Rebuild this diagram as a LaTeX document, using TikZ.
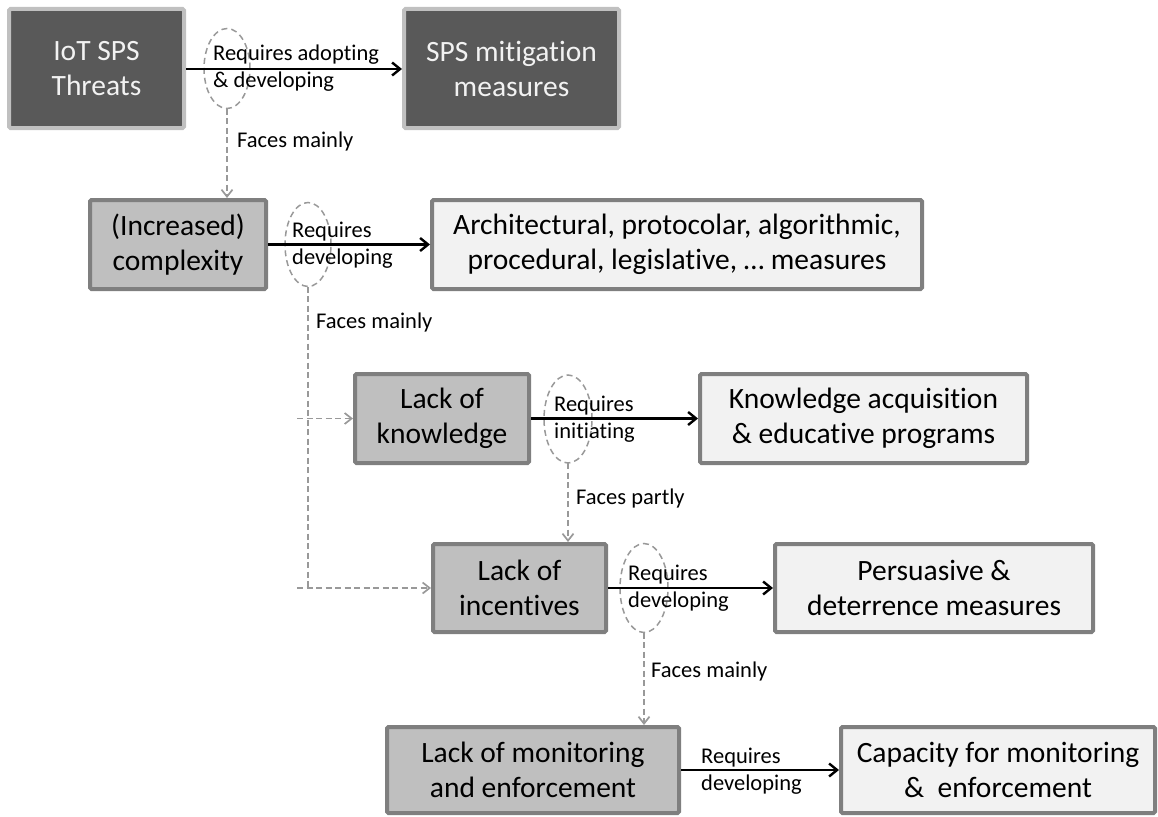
\documentclass[tikz,border=0pt]{standalone}
\usepackage{fontspec}
\setmainfont{Carlito}[Ligatures=CommonOff]
\usetikzlibrary{arrows.meta,shapes.geometric}
\definecolor{darkbox}{HTML}{595959}
\definecolor{darkborder}{HTML}{C0C0C0}
\definecolor{midbox}{HTML}{BFBFBF}
\definecolor{boxborder}{HTML}{7F7F7F}
\definecolor{lightbox}{HTML}{F2F2F2}
\definecolor{dashgrey}{HTML}{999999}
\begin{document}
\begin{tikzpicture}[x=1pt,y=-1pt,
  box/.style={draw, line width=4pt, rounded corners=1.5pt, inner sep=0pt,
    align=center, font=\fontsize{29.5}{35}\selectfont},
  threat/.style={box, fill=darkbox, draw=darkborder, text=lightbox},
  issue/.style={box, fill=midbox, draw=boxborder, text=black},
  measure/.style={box, fill=lightbox, draw=boxborder, text=black},
  lbl/.style={inner sep=0pt, anchor=base west, font=\fontsize{22.5}{27}\selectfont},
  req/.style={-{Straight Barb[length=8pt,width=13pt]}, line width=2.4pt, black},
  face/.style={-{Straight Barb[length=7pt,width=11pt]}, line width=1.7pt, draw=dashgrey,
    dash pattern=on 6pt off 3.5pt},
  faceline/.style={line width=1.7pt, draw=dashgrey, dash pattern=on 6pt off 3.5pt},
  oval/.style={ellipse, draw=dashgrey, line width=1.5pt, dash pattern=on 6pt off 4pt,
    inner sep=0pt, outer sep=0pt}
]
\useasboundingbox (0,0) rectangle (1158,816);

% boxes
\node[threat, minimum width=175pt, minimum height=119pt] (iot) at (96.5,68.5) {IoT SPS\\Threats};
\node[threat, minimum width=215pt, minimum height=119pt] (sps) at (511.5,68.5) {SPS mitigation\\measures};
\node[issue, minimum width=176pt, minimum height=89pt] (cplx) at (178,244.5) {(Increased)\\complexity};
\node[measure, minimum width=490pt, minimum height=89pt] (arch) at (677,244.5) {Architectural, protocolar, algorithmic,\\procedural, legislative, \dots\ measures};
\node[issue, minimum width=174pt, minimum height=89pt] (know) at (442,418.5) {Lack of\\knowledge};
\node[measure, minimum width=327pt, minimum height=89pt] (acq) at (863.5,418.5) {Knowledge acquisition\\\& educative programs};
\node[issue, minimum width=173pt, minimum height=88pt] (inc) at (519.5,588) {Lack of\\incentives};
\node[measure, minimum width=318pt, minimum height=88pt] (pers) at (934,588) {Persuasive \&\\deterrence measures};
\node[issue, minimum width=292pt, minimum height=86pt] (mon) at (533,770) {Lack of monitoring\\and enforcement};
\node[measure, minimum width=314pt, minimum height=86pt] (cap) at (998,770) {Capacity for monitoring\\\&\ \ enforcement};

% dashed ellipses
\node[oval, minimum width=46pt, minimum height=80pt] (e1) at (227,68.5) {};
\node[oval, minimum width=46pt, minimum height=84pt] (e2) at (308,244.5) {};
\node[oval, minimum width=48pt, minimum height=88pt] (e3) at (568,419) {};
\node[oval, minimum width=48pt, minimum height=89pt] (e4) at (644,588) {};

% solid arrows
\draw[req] (iot.east |- 0,69) -- (sps.west |- 0,69);
\draw[req] (cplx) -- (arch);
\draw[req] (know) -- (acq);
\draw[req] (inc) -- (pers);
\draw[req] (mon) -- (cap);

% dashed arrows
\draw[face] (e1.south) -- (e1.south |- cplx.north);
\draw[faceline] (e2.south) -- (e2.south |- inc.west);
\coordinate (k0) at (297,418.5);
\coordinate (i0) at (297,588);
\draw[face] (k0) -- (know.west);
\draw[face] (i0) -- (inc.west);
\draw[face] (e3.south) -- (e3.south |- inc.north);
\draw[face] (e4.south) -- (e4.south |- mon.north);

% labels
\node[lbl] (l1) at (213,60) {\begin{tabular}[t]{@{}l@{}}Requires adopting\\\& developing\end{tabular}};
\node[lbl] (f1) at (237,147) {Faces mainly};
\node[lbl] (l2) at (292,237) {\begin{tabular}[t]{@{}l@{}}Requires\\developing\end{tabular}};
\node[lbl] (f2) at (316,328) {Faces mainly};
\node[lbl] (l3) at (554,411) {\begin{tabular}[t]{@{}l@{}}Requires\\initiating\end{tabular}};
\node[lbl] (f3) at (576,504) {Faces partly};
\node[lbl] (l4) at (628,580) {\begin{tabular}[t]{@{}l@{}}Requires\\developing\end{tabular}};
\node[lbl] (f4) at (651,677) {Faces mainly};
\node[lbl] (l5) at (701,763) {\begin{tabular}[t]{@{}l@{}}Requires\\developing\end{tabular}};
\end{tikzpicture}
\end{document}
